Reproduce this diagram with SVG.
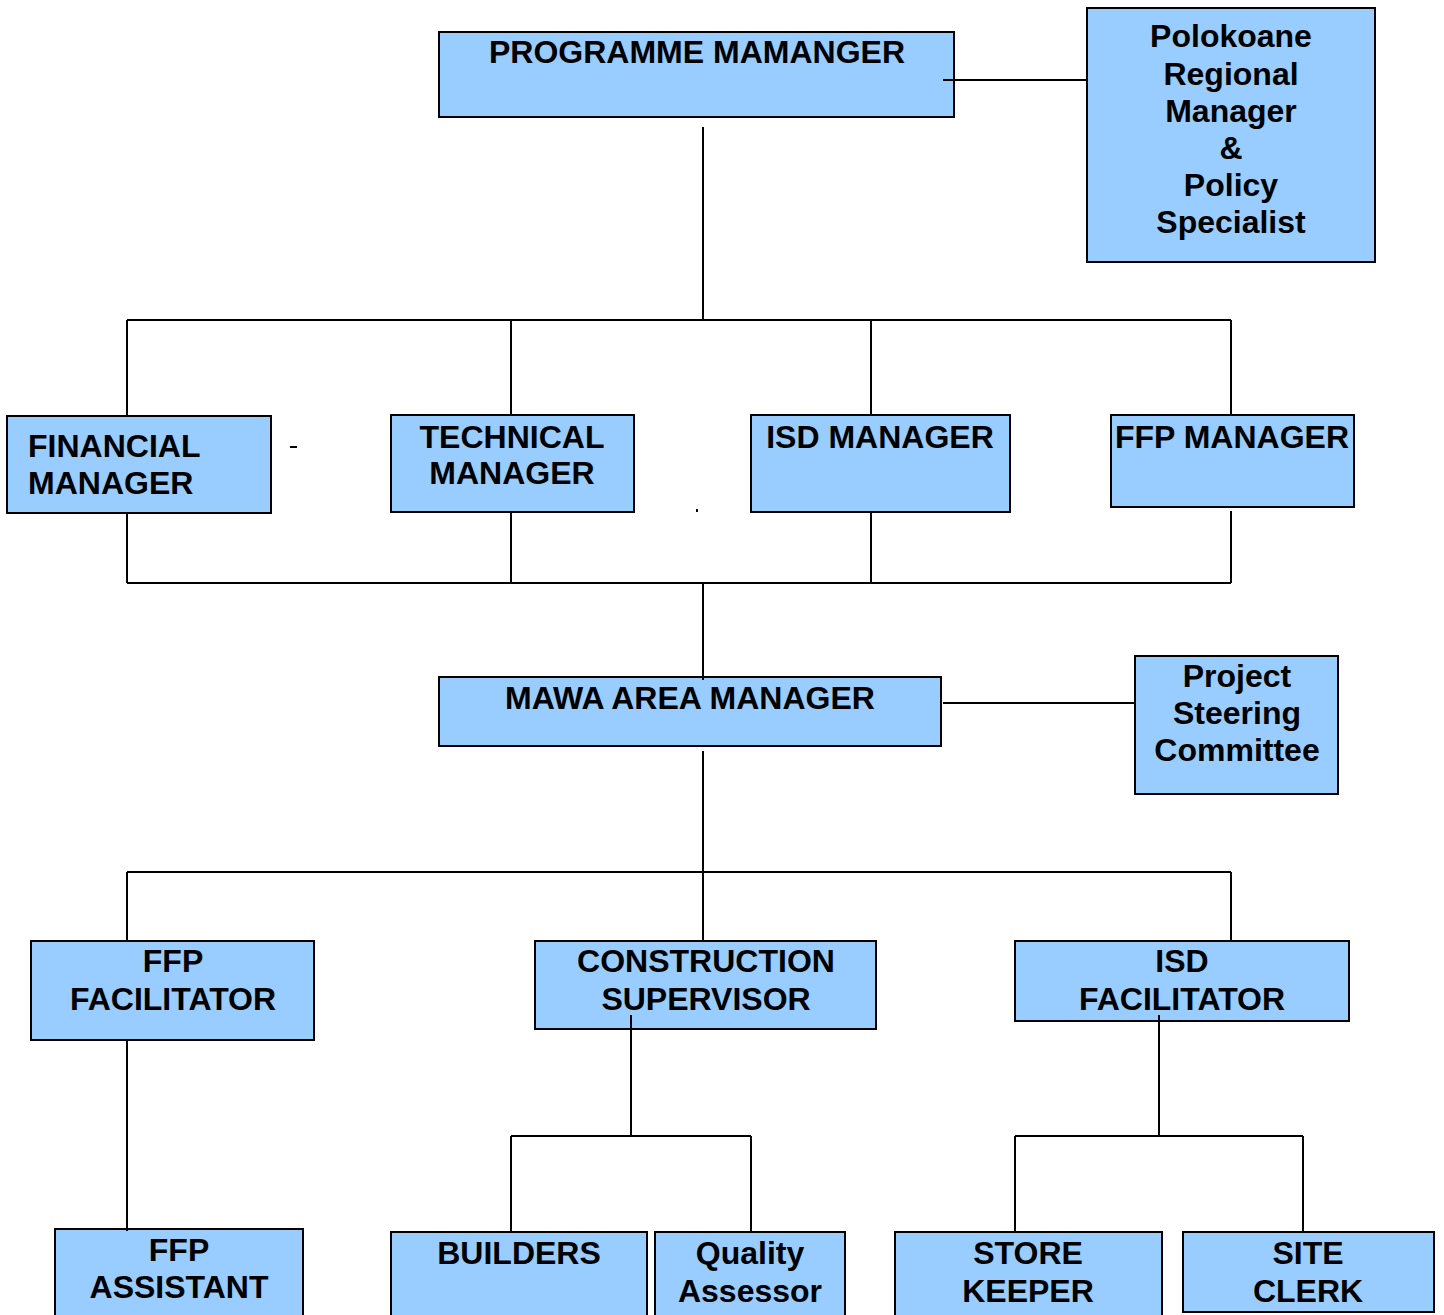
<svg xmlns="http://www.w3.org/2000/svg" width="1444" height="1315" viewBox="0 0 1444 1315">
<style>
.box{fill:#99ccff;stroke:#000;stroke-width:2}
.t{font-family:"Liberation Sans",Arial,sans-serif;font-weight:bold;font-size:32px;fill:#000;text-anchor:middle}
.l{text-anchor:start}
.c{fill:none;stroke:#000;stroke-width:2}
</style>
<rect width="1444" height="1315" fill="#fff"/>
<g id="programme-manager"><rect class="box" x="439" y="32" width="515" height="85"/><text class="t" x="697" y="63">PROGRAMME MAMANGER</text></g>
<g id="polokoane"><rect class="box" x="1087" y="8" width="288" height="254"/>
<text class="t" x="1231" y="47">Polokoane</text><text class="t" x="1231" y="85">Regional</text><text class="t" x="1231" y="122">Manager</text><text class="t" x="1231" y="159">&amp;</text><text class="t" x="1231" y="196">Policy</text><text class="t" x="1231" y="233">Specialist</text></g>
<g id="financial-manager"><rect class="box" x="7" y="416" width="264" height="97"/><text class="t l" x="28" y="457">FINANCIAL</text><text class="t l" x="28" y="494">MANAGER</text></g>
<g id="technical-manager"><rect class="box" x="391" y="415" width="243" height="97"/><text class="t" x="512" y="448">TECHNICAL</text><text class="t" x="512" y="484">MANAGER</text></g>
<g id="isd-manager"><rect class="box" x="751" y="415" width="259" height="97"/><text class="t" x="880" y="448">ISD MANAGER</text></g>
<g id="ffp-manager"><rect class="box" x="1111" y="415" width="243" height="92"/><text class="t" x="1232" y="448">FFP MANAGER</text></g>
<g id="mawa-area-manager"><rect class="box" x="439" y="677" width="502" height="69"/><text class="t" x="690" y="709">MAWA AREA MANAGER</text></g>
<g id="project-steering"><rect class="box" x="1135" y="656" width="203" height="138"/><text class="t" x="1237" y="687">Project</text><text class="t" x="1237" y="724">Steering</text><text class="t" x="1237" y="761">Committee</text></g>
<g id="ffp-facilitator"><rect class="box" x="31" y="941" width="283" height="99"/><text class="t" x="173" y="972">FFP</text><text class="t" x="173" y="1010">FACILITATOR</text></g>
<g id="construction-supervisor"><rect class="box" x="535" y="941" width="341" height="88"/><text class="t" x="706" y="972">CONSTRUCTION</text><text class="t" x="706" y="1010">SUPERVISOR</text></g>
<g id="isd-facilitator"><rect class="box" x="1015" y="941" width="334" height="80"/><text class="t" x="1182" y="972">ISD</text><text class="t" x="1182" y="1010">FACILITATOR</text></g>
<g id="ffp-assistant"><rect class="box" x="55" y="1229" width="248" height="90"/><text class="t" x="179" y="1261">FFP</text><text class="t" x="179" y="1298">ASSISTANT</text></g>
<g id="builders"><rect class="box" x="391" y="1232" width="256" height="90"/><text class="t" x="519" y="1264">BUILDERS</text></g>
<g id="quality-assessor"><rect class="box" x="655" y="1232" width="190" height="90"/><text class="t" x="750" y="1264">Quality</text><text class="t" x="750" y="1302">Assessor</text></g>
<g id="store-keeper"><rect class="box" x="895" y="1232" width="267" height="90"/><text class="t" x="1028" y="1264">STORE</text><text class="t" x="1028" y="1302">KEEPER</text></g>
<g id="site-clerk"><rect class="box" x="1183" y="1232" width="251" height="80"/><text class="t" x="1308" y="1264">SITE</text><text class="t" x="1308" y="1302">CLERK</text></g>
<g id="connectors">
<path class="c" d="M943 80H1087"/>
<path class="c" d="M703 127V320M127 320H1231M127 320V416M511 320V415M871 320V415M1231 320V415"/>
<path class="c" d="M127 513V583M511 512V583M871 512V583M1231 511V583M127 583H1231M703 583V680"/>
<path class="c" d="M943 703H1135"/>
<path class="c" d="M703 751V942M127 872H1231M127 872V942M1231 872V942"/>
<path class="c" d="M127 1040V1231"/>
<path class="c" d="M631 1015V1136M511 1136H751M511 1136V1232M751 1136V1232"/>
<path class="c" d="M1159 1015V1136M1015 1136H1303M1015 1136V1232M1303 1136V1232"/>
<path class="c" d="M290 447H297"/>
<rect x="696" y="509" width="2" height="3" fill="#000"/>
</g>
</svg>
